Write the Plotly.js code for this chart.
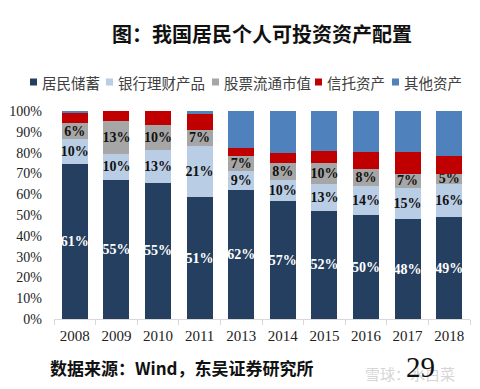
<!DOCTYPE html>
<html>
<head>
<meta charset="utf-8">
<script src="https://cdn.plot.ly/plotly-3.0.1.min.js"></script>
<style>html,body{margin:0;padding:0;background:#fff;}#chart{width:480px;height:389px;}</style>
</head>
<body>
<div id="chart"></div>
<script>
// ---- data ----
var years = ["2008","2009","2010","2011","2013","2014","2015","2016","2017","2018"];
var seriesNames = ["居民储蓄","银行理财产品","股票流通市值","信托资产","其他资产"];
var seriesColors = ["#243f60","#b9cde5","#a6a6a6","#c00000","#4f81bd"];
// bar segment heights (%), as drawn
var savings   = [74.6, 67.0, 65.4, 58.5, 61.8, 56.5, 52.0, 50.0, 48.0, 49.0];
var wealthMgmt= [12.0, 12.4, 15.7, 24.5,  9.2, 10.5, 13.1, 14.1, 15.0, 16.1];
var stocks    = [ 7.4, 15.7, 12.1,  8.1,  7.2,  8.0,  9.9,  8.0,  6.9,  4.8];
var trust     = [ 5.1,  4.9,  6.8,  7.7,  4.1,  4.9,  6.0,  8.0, 10.2,  8.3];
var others    = [ 0.9,  0.0,  0.0,  1.2, 17.7, 20.1, 19.0, 19.9, 19.9, 21.8];
// printed data labels
var savingsLabels = ["61%","55%","55%","51%","62%","57%","52%","50%","48%","49%"];
var wealthLabels  = ["10%","10%","13%","21%","9%","10%","13%","14%","15%","16%"];
var stockLabels   = ["6%","13%","10%","7%","7%","8%","10%","8%","7%","5%"];
var titleText = "图：我国居民个人可投资资产配置";
var sourceText = "数据来源：Wind，东吴证券研究所";
var pageNumber = "29";
var watermark = "雪球：水白菜";

// ---- layout geometry ----
var W = 480, H = 389;
var L = 54, R = 470, T = 111, B = 319;
function px(x){ return (x - L) / (R - L); }
function py(y){ return (B - y) / (B - T); }

var serif = "Liberation Serif, Times New Roman, serif";
var cjk = "Noto Sans CJK SC, sans-serif";

var values = [savings, wealthMgmt, stocks, trust, others];
var labels = [savingsLabels, wealthLabels, stockLabels, null, null];
var labelColors = ["#ffffff","#111111","#111111","#111111","#111111"];

var traces = values.map(function(v, i){
  var t = {
    type: "bar", x: years, y: v, name: seriesNames[i],
    marker: {color: seriesColors[i], line: {width: 0}},
    hoverinfo: "skip", showlegend: false
  };
  if (labels[i]) {
    t.text = labels[i];
    t.textposition = "inside";
    t.insidetextanchor = "middle";
    t.constraintext = "none";
    t.textangle = 0;
    t.insidetextfont = {family: serif, size: 14, color: labelColors[i], weight: 700};
    t.texttemplate = "<b>%{text}</b>";
  } else {
    t.textposition = "none";
  }
  return t;
});

// custom legend (tight, single row)
var legendX = [30, 106, 212, 315, 392];
var legendY = 82;
var shapes = [];
var annotations = [];
seriesNames.forEach(function(n, i){
  shapes.push({type: "rect", xref: "paper", yref: "paper",
    x0: px(legendX[i]), x1: px(legendX[i] + 7),
    y0: py(legendY + 3.5), y1: py(legendY - 3.5),
    fillcolor: seriesColors[i], line: {width: 0}});
  annotations.push({xref: "paper", yref: "paper", x: px(legendX[i] + 10), y: py(legendY),
    xanchor: "left", yanchor: "middle", showarrow: false, text: n,
    font: {family: cjk, size: 14.5, color: "#404040"}});
});
annotations.push({xref: "paper", yref: "paper", x: px(48), y: py(367),
  xanchor: "left", yanchor: "middle", showarrow: false, text: "<b>" + sourceText + "</b>",
  font: {family: cjk, size: 17, color: "#111111"}});
annotations.push({xref: "paper", yref: "paper", x: px(410), y: py(373),
  xanchor: "center", yanchor: "middle", showarrow: false, text: watermark,
  font: {family: cjk, size: 15, color: "#d6d6d6"}});
annotations.push({xref: "paper", yref: "paper", x: px(420), y: py(367),
  xanchor: "center", yanchor: "middle", showarrow: false, text: pageNumber,
  font: {family: serif, size: 29, color: "#111111"}});

var layout = {
  width: W, height: H,
  margin: {l: L, r: W - R, t: T, b: H - B, pad: 0},
  paper_bgcolor: "#ffffff", plot_bgcolor: "#ffffff",
  barmode: "stack", bargap: 0.375,
  showlegend: false,
  title: {text: "<b>" + titleText + "</b>", x: 262 / W, xanchor: "center",
    y: 1 - 35 / H, yanchor: "middle", yref: "container", xref: "container",
    font: {family: cjk, size: 20, color: "#111111"}},
  xaxis: {type: "category", tickson: "boundaries", ticks: "outside", ticklen: 5,
    tickcolor: "#d9d9d9", showline: true, linecolor: "#d9d9d9", linewidth: 1,
    showgrid: false, zeroline: false, ticklabelstandoff: 3,
    tickfont: {family: serif, size: 15, color: "#222222"}},
  yaxis: {range: [0, 100], dtick: 10, ticksuffix: "%", showgrid: false, zeroline: false,
    showline: false, ticks: "", ticklabelstandoff: 11,
    tickfont: {family: serif, size: 14, color: "#222222"}},
  shapes: shapes,
  annotations: annotations
};

Plotly.newPlot("chart", traces, layout, {staticPlot: true, displayModeBar: false});
</script>
</body>
</html>
